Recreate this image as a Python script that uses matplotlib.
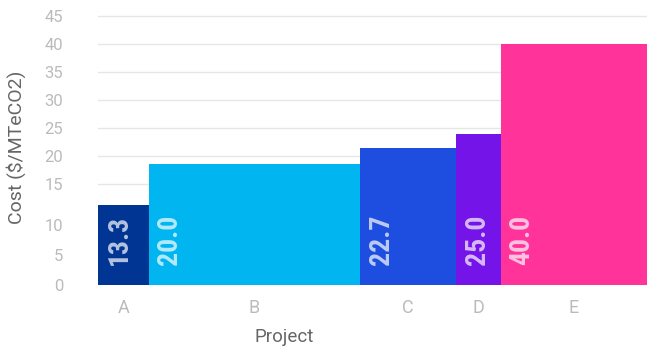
import matplotlib.pyplot as plt
import numpy as np

# project data (width = abatement size, height = cost)
projects = ['A', 'B', 'C', 'D', 'E']
widths = [5.1, 21.1, 9.6, 4.5, 14.6]
costs = [13.3, 20.0, 22.7, 25.0, 40.0]
colors = ['#003594', '#00b5f0', '#1e4edf', '#7514e8', '#ff3399']

ytick_values = [0, 5, 10, 15, 20, 25, 30, 35, 40, 45]

W, H, DPI = 647, 349, 100
fig = plt.figure(figsize=(W / DPI, H / DPI), dpi=DPI)
ax = fig.add_axes([98 / W, (H - 285) / H, 549 / W, 275 / H])

lefts = np.concatenate([[0], np.cumsum(widths)[:-1]])
centers = lefts + np.array(widths) / 2

ax.bar(lefts, costs, width=widths, align='edge', color=colors, zorder=2)

# value labels, rotated, near bottom of each bar
label_font = ['Roboto Condensed', 'Liberation Sans Narrow', 'DejaVu Sans']
for left, c in zip(lefts, costs):
    ax.annotate(f'{c:.1f}', xy=(left, 0), xytext=(21, 20), textcoords='offset pixels',
                rotation=90, ha='center', va='bottom', color='white', alpha=0.7,
                fontsize=20, fontweight='bold', family=label_font, zorder=3)

ax.set_xlim(0, sum(widths))
ax.set_ylim(0, 45.6)

# the reference grid above 15 is drawn slightly compressed towards 40
ytick_pos = [t if t <= 10 else 40 + (t - 40) * 0.93 for t in ytick_values]
ax.set_yticks(ytick_pos)
ax.set_yticklabels([str(t) for t in ytick_values])
for p, t in zip(ytick_pos, ytick_values):
    if t >= 15:
        ax.axhline(p, color='#e6e6e6', lw=1, zorder=1)

ax.set_xticks(centers)
ax.set_xticklabels(projects)

for s in ax.spines.values():
    s.set_visible(False)
ax.tick_params(axis='both', length=0, colors='#bbbbbb', labelsize=12)
ax.tick_params(axis='y', pad=25)
ax.tick_params(axis='x', pad=10, labelsize=13)
for lab in ax.get_xticklabels() + ax.get_yticklabels():
    lab.set_family('Roboto')

ax.set_xlabel('Project', family='Roboto', fontsize=13.5, color='#666666')
ax.set_ylabel('Cost ($/MTeCO2)', family='Roboto', fontsize=14, color='#666666')
ax.xaxis.set_label_coords(0.34, -0.155)
ax.yaxis.set_label_coords(-0.131, 0.5)

fig.savefig('out.png', dpi=DPI)
